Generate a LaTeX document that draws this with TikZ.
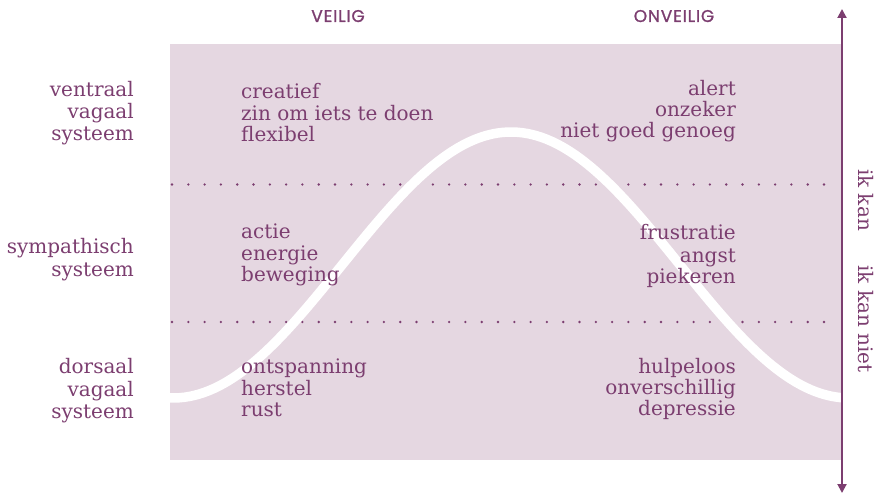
\documentclass[tikz,border=0pt]{standalone}
\usepackage{fontspec}
\setmainfont{DejaVu Serif}
\newfontfamily\capsfont[LetterSpace=5,FakeBold=1.2]{Poppins}
\usetikzlibrary{arrows.meta}
\definecolor{purp}{RGB}{124,62,112}
\definecolor{mauve}{RGB}{229,215,225}
\begin{document}
\begin{tikzpicture}[x=1pt,y=-1pt,
  lbl/.style={text=purp,font=\fontsize{20}{21.5}\selectfont,inner sep=0pt},
  head/.style={text=purp,font=\capsfont\fontsize{17}{19}\selectfont,inner sep=0pt},
  side/.style={text=purp,font=\fontsize{20}{21.5}\selectfont,inner sep=0pt,rotate=-90},
  dotline/.style={purp,line width=2.6pt,line cap=round,dash pattern=on 0pt off 16.3pt},
  wave/.style={white,line width=9.5pt}]
\useasboundingbox (0,0) rectangle (882,494);
\fill[mauve] (170,44) rectangle (841,460);
% dotted separators
\coordinate (d1a) at (172,184.5); \coordinate (d1b) at (840,184.5);
\coordinate (d2a) at (172,322); \coordinate (d2b) at (840,322);
\draw[dotline] (d1a) -- (d1b);
\draw[dotline] (d2a) -- (d2b);
% wave
\begin{scope}
\clip (170,44) rectangle (841,460);
\draw[wave] plot[domain=165:845,samples=140] (\x,{398-133*(1+cos(0.53254*(\x-511)))});
\end{scope}
% axis arrow
\coordinate (atop) at (842,9);
\coordinate (abot) at (842,493);
\draw[purp,line width=2pt,{Triangle[length=9pt,width=9pt]}-{Triangle[length=9pt,width=9pt]}] (atop) -- (abot);
% headings
\node[head,anchor=base] (veilig) at (338,22) {VEILIG};
\node[head,anchor=base] (onveilig) at (674,22) {ONVEILIG};
% left labels
\node[lbl,anchor=base east] (ventraal) at (134,97) {ventraal};
\node[lbl,anchor=base east] (vvag) at (134,119) {vagaal};
\node[lbl,anchor=base east] (vsys) at (134,141) {systeem};
\node[lbl,anchor=base east] (symp) at (134,253) {sympathisch};
\node[lbl,anchor=base east] (ssys) at (134,276) {systeem};
\node[lbl,anchor=base east] (dors) at (134,373) {dorsaal};
\node[lbl,anchor=base east] (dvag) at (134,396) {vagaal};
\node[lbl,anchor=base east] (dsys) at (134,418) {systeem};
% safe column
\node[lbl,anchor=base west] (s1) at (241,99) {creatief};
\node[lbl,anchor=base west] (s2) at (241,121) {zin om iets te doen};
\node[lbl,anchor=base west] (s3) at (241,142) {flexibel};
\node[lbl,anchor=base west] (s4) at (241,238) {actie};
\node[lbl,anchor=base west] (s5) at (241,260) {energie};
\node[lbl,anchor=base west] (s6) at (241,281) {beweging};
\node[lbl,anchor=base west] (s7) at (241,373) {ontspanning};
\node[lbl,anchor=base west] (s8) at (241,395) {herstel};
\node[lbl,anchor=base west] (s9) at (241,416) {rust};
% unsafe column
\node[lbl,anchor=base east] (u1) at (736,96) {alert};
\node[lbl,anchor=base east] (u2) at (736,117) {onzeker};
\node[lbl,anchor=base east] (u3) at (736,138) {niet goed genoeg};
\node[lbl,anchor=base east] (u4) at (736,240) {frustratie};
\node[lbl,anchor=base east] (u5) at (736,262) {angst};
\node[lbl,anchor=base east] (u6) at (736,283) {piekeren};
\node[lbl,anchor=base east] (u7) at (736,373) {hulpeloos};
\node[lbl,anchor=base east] (u8) at (736,394) {onverschillig};
\node[lbl,anchor=base east] (u9) at (736,415) {depressie};
% vertical labels
\node[side,anchor=base] (ikkan) at (858,200) {ik kan};
\node[side,anchor=base] (ikkanniet) at (858,319) {ik kan niet};
\end{tikzpicture}
\end{document}
